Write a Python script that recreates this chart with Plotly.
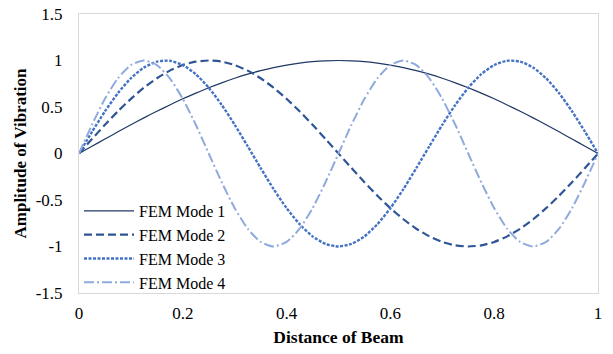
import plotly.graph_objects as go

x = [round(i * 0.025, 3) for i in range(41)]

mode1 = [0, 0.078, 0.156, 0.233, 0.309, 0.383, 0.454, 0.522, 0.588, 0.649, 0.707,
         0.760, 0.809, 0.853, 0.891, 0.924, 0.951, 0.972, 0.988, 0.997, 1.0,
         0.997, 0.988, 0.972, 0.951, 0.924, 0.891, 0.853, 0.809, 0.760, 0.707,
         0.649, 0.588, 0.522, 0.454, 0.383, 0.309, 0.233, 0.156, 0.078, 0]
mode2 = [0, 0.156, 0.309, 0.454, 0.588, 0.707, 0.809, 0.891, 0.951, 0.988, 1.0,
         0.988, 0.951, 0.891, 0.809, 0.707, 0.588, 0.454, 0.309, 0.156, 0,
         -0.156, -0.309, -0.454, -0.588, -0.707, -0.809, -0.891, -0.951, -0.988, -1.0,
         -0.988, -0.951, -0.891, -0.809, -0.707, -0.588, -0.454, -0.309, -0.156, 0]
mode3 = [0, 0.233, 0.454, 0.649, 0.809, 0.924, 0.988, 0.998, 0.951, 0.853, 0.707,
         0.522, 0.309, 0.078, -0.156, -0.383, -0.588, -0.760, -0.891, -0.972, -1.0,
         -0.972, -0.891, -0.760, -0.588, -0.383, -0.156, 0.078, 0.309, 0.522, 0.707,
         0.853, 0.951, 0.998, 0.988, 0.924, 0.809, 0.649, 0.454, 0.233, 0]
mode4 = [0, 0.309, 0.588, 0.809, 0.951, 1.0, 0.951, 0.809, 0.588, 0.309, 0,
         -0.309, -0.588, -0.809, -0.951, -1.0, -0.951, -0.809, -0.588, -0.309, 0,
         0.309, 0.588, 0.809, 0.951, 1.0, 0.951, 0.809, 0.588, 0.309, 0,
         -0.309, -0.588, -0.809, -0.951, -1.0, -0.951, -0.809, -0.588, -0.309, 0]

names = ["FEM Mode 1", "FEM Mode 2", "FEM Mode 3", "FEM Mode 4"]
series = [mode1, mode2, mode3, mode4]
colors = ["#203864", "#2F5597", "#4472C4", "#8FAADC"]
dashes = ["solid", "8px,4px", "3px,1.5px", "10px,3px,2px,3px"]
widths = [1.2, 2.2, 2.4, 2.0]

FONT = "'Liberation Serif', 'Times New Roman', serif"

fig = go.Figure()
for n, s, c, d, w in zip(names, series, colors, dashes, widths):
    fig.add_trace(go.Scatter(x=x, y=s, mode="lines", name=n,
                             line=dict(color=c, dash=d, width=w, shape="spline", smoothing=0.6)))

fig.update_layout(
    width=613, height=354,
    margin=dict(l=79, r=15, t=14, b=61),
    paper_bgcolor="white", plot_bgcolor="white",
    font=dict(family=FONT, size=17, color="#000000"),
    showlegend=True,
    legend=dict(x=0.0, y=-0.025, xanchor="left", yanchor="bottom",
                bgcolor="rgba(255,255,255,0)", font=dict(family=FONT, size=16),
                tracegroupgap=0, itemwidth=50, borderwidth=0),
    xaxis=dict(range=[0, 1], tickvals=[0, 0.2, 0.4, 0.6, 0.8, 1],
               ticktext=["0", "0.2", "0.4", "0.6", "0.8", "1"],
               tickfont=dict(family=FONT, size=17),
               showgrid=False, zeroline=False, showline=True, linecolor="#D9D9D9",
               mirror=True, ticks="", ticklabelstandoff=5, automargin=False,
               title=dict(text="<b>Distance of Beam</b>", font=dict(family=FONT, size=17.5), standoff=8)),
    yaxis=dict(range=[-1.5, 1.5], tickvals=[-1.5, -1, -0.5, 0, 0.5, 1, 1.5],
               ticktext=["-1.5", "-1", "-0.5", "0", "0.5", "1", "1.5"],
               tickfont=dict(family=FONT, size=17),
               showgrid=False, zeroline=False, showline=True, linecolor="#D9D9D9",
               mirror=True, ticks="", ticklabelstandoff=12, automargin=False,
               title=dict(text="<b>Amplitude of Vibration</b>", font=dict(family=FONT, size=17), standoff=4)),
)

fig.write_html("out.html", config={"displayModeBar": False},
               post_script="document.body.style.margin='0';")
